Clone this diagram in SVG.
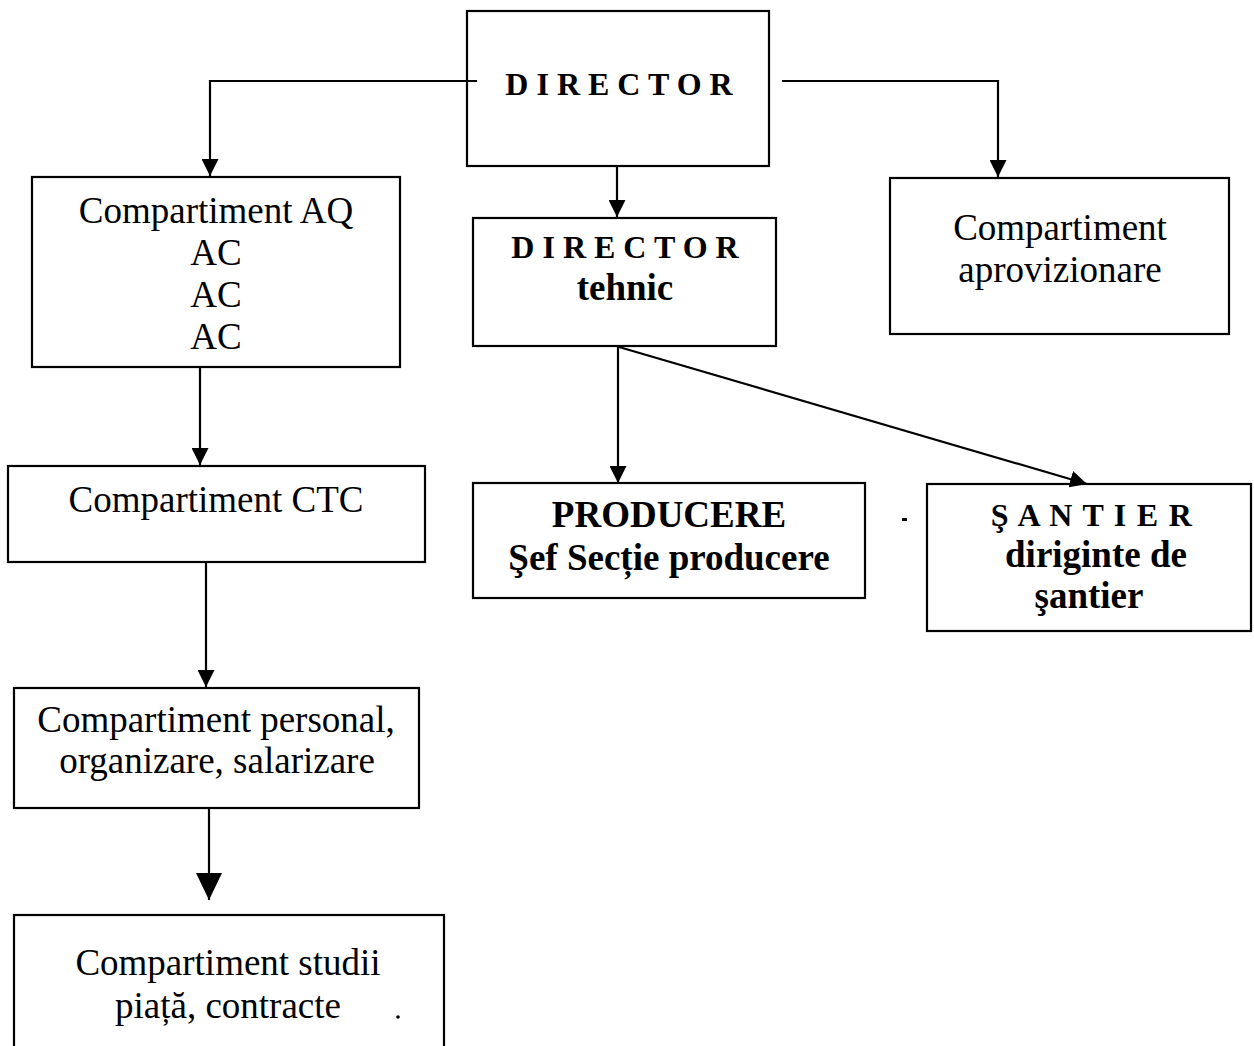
<svg xmlns="http://www.w3.org/2000/svg" width="1254" height="1046" viewBox="0 0 1254 1046">
<style>
.box{fill:#fff;stroke:#000;stroke-width:2.2}
.ln{fill:none;stroke:#000;stroke-width:2.2}
.t{font-family:"Liberation Serif","Times New Roman",serif;font-size:37px;fill:#000;text-anchor:middle}
.b{font-weight:bold}
.sp{font-size:32px;font-weight:bold}
</style>
<defs>
<marker id="ah" markerUnits="userSpaceOnUse" markerWidth="17" markerHeight="17" refX="17" refY="8.5" orient="auto" viewBox="0 0 17 17">
<path d="M0,0 L17,8.5 L0,17 z" fill="#000"/>
</marker>
<marker id="ahL" markerUnits="userSpaceOnUse" markerWidth="27" markerHeight="26" refX="27" refY="13" orient="auto" viewBox="0 0 27 26">
<path d="M0,0 L27,13 L0,26 z" fill="#000"/>
</marker>
</defs>
<rect width="1254" height="1046" fill="#fff"/>

<g id="director">
<rect class="box" x="467" y="11" width="302" height="155"/>
<text class="t sp" x="619" y="95">D I R E C T O R</text>
</g>

<g id="comp-aq">
<rect class="box" x="32" y="177" width="368" height="190"/>
<text class="t" x="216" y="223">Compartiment AQ</text>
<text class="t" x="216" y="265">AC</text>
<text class="t" x="216" y="307">AC</text>
<text class="t" x="216" y="349">AC</text>
</g>

<g id="director-tehnic">
<rect class="box" x="473" y="218" width="303" height="128"/>
<text class="t sp" x="625" y="258">D I R E C T O R</text>
<text class="t b" x="625" y="300">tehnic</text>
</g>

<g id="comp-aprovizionare">
<rect class="box" x="890" y="178" width="339" height="156"/>
<text class="t" x="1060" y="240">Compartiment</text>
<text class="t" x="1060" y="282">aprovizionare</text>
</g>

<g id="comp-ctc">
<rect class="box" x="8" y="466" width="417" height="96"/>
<text class="t" x="216" y="512">Compartiment CTC</text>
</g>

<g id="producere">
<rect class="box" x="473" y="483" width="392" height="115"/>
<text class="t b" x="669" y="527">PRODUCERE</text>
<text class="t b" x="669" y="570">Şef Secție producere</text>
</g>

<g id="santier">
<rect class="box" x="927" y="484" width="324" height="147"/>
<text class="t sp" x="1092" y="526" style="letter-spacing:1.3px">Ş A N T I E R</text>
<text class="t b" x="1096" y="567">diriginte de</text>
<text class="t b" x="1089" y="608">şantier</text>
</g>

<g id="comp-personal">
<rect class="box" x="14" y="688" width="405" height="120"/>
<text class="t" x="216" y="732">Compartiment personal,</text>
<text class="t" x="217" y="773">organizare, salarizare</text>
</g>

<g id="comp-studii">
<rect class="box" x="14" y="915" width="430" height="140"/>
<text class="t" x="228" y="975">Compartiment studii</text>
<text class="t" x="228" y="1018">piață, contracte</text>
</g>

<g id="connectors">
<polyline class="ln" points="477,81 210,81 210,176" marker-end="url(#ah)"/>
<polyline class="ln" points="782,81 998,81 998,177" marker-end="url(#ah)"/>
<line class="ln" x1="617" y1="167" x2="617" y2="217" marker-end="url(#ah)"/>
<line class="ln" x1="200" y1="368" x2="200" y2="465" marker-end="url(#ah)"/>
<line class="ln" x1="206" y1="563" x2="206" y2="687" marker-end="url(#ah)"/>
<line class="ln" x1="209" y1="809" x2="209" y2="900" marker-end="url(#ahL)"/>
<line class="ln" x1="618" y1="347" x2="618" y2="483" marker-end="url(#ah)"/>
<line class="ln" x1="619" y1="347" x2="1087" y2="484" marker-end="url(#ah)"/>
</g>

<g id="marks">
<rect x="902" y="518" width="5" height="3" fill="#000"/>
<circle cx="398" cy="1017" r="1.8" fill="#000"/>
</g>
</svg>
